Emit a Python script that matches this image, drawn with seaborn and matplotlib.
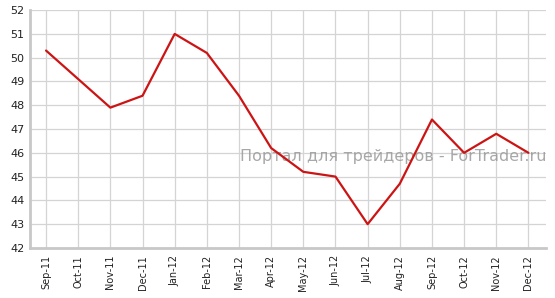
import matplotlib
matplotlib.use("Agg")
import matplotlib.pyplot as plt
import seaborn as sns
import pandas as pd

months = ["Sep-11", "Oct-11", "Nov-11", "Dec-11", "Jan-12", "Feb-12", "Mar-12", "Apr-12",
          "May-12", "Jun-12", "Jul-12", "Aug-12", "Sep-12", "Oct-12", "Nov-12", "Dec-12"]
values = [50.3, 49.1, 47.9, 48.4, 51.0, 50.2, 48.4, 46.2,
          45.2, 45.0, 43.0, 44.7, 47.4, 46.0, 46.8, 46.0]
yticks = list(range(42, 53))

sns.set_style("white")
plt.rcParams['font.family'] = ['DejaVu Sans']

df = pd.DataFrame({"x": range(len(months)), "v": values})
fig = plt.figure(figsize=(5.55, 2.98), dpi=100)
ax = fig.add_axes([0.054, 0.168, 0.93, 0.798])
sns.lineplot(data=df, x="x", y="v", ax=ax, color="#cc1414", linewidth=1.6, zorder=3)

ax.set_xlim(-0.5, 15.55)
ax.set_ylim(42, 52)
ax.set_yticks(yticks)
ax.set_xticks(range(len(months)))
ax.set_xticklabels(months, rotation=90, fontsize=7, color="#222222")
ax.tick_params(axis="y", labelsize=8, colors="#222222", length=0, pad=4)
ax.tick_params(axis="x", length=0, pad=5)
ax.set_xlabel("")
ax.set_ylabel("")
ax.grid(True, color="#d4d4d4", linewidth=0.9)
ax.set_axisbelow(True)
for s in ["top", "right"]:
    ax.spines[s].set_visible(False)
for s in ["left", "bottom"]:
    ax.spines[s].set_color("#c8c8c8")
    ax.spines[s].set_linewidth(2)

ax.text(0.703, 0.385, "Портал для трейдеров - ForTrader.ru", transform=ax.transAxes,
        ha="center", va="center", fontsize=11.5, color="#999999", alpha=0.85, zorder=2)

fig.savefig("out.png", dpi=100)
